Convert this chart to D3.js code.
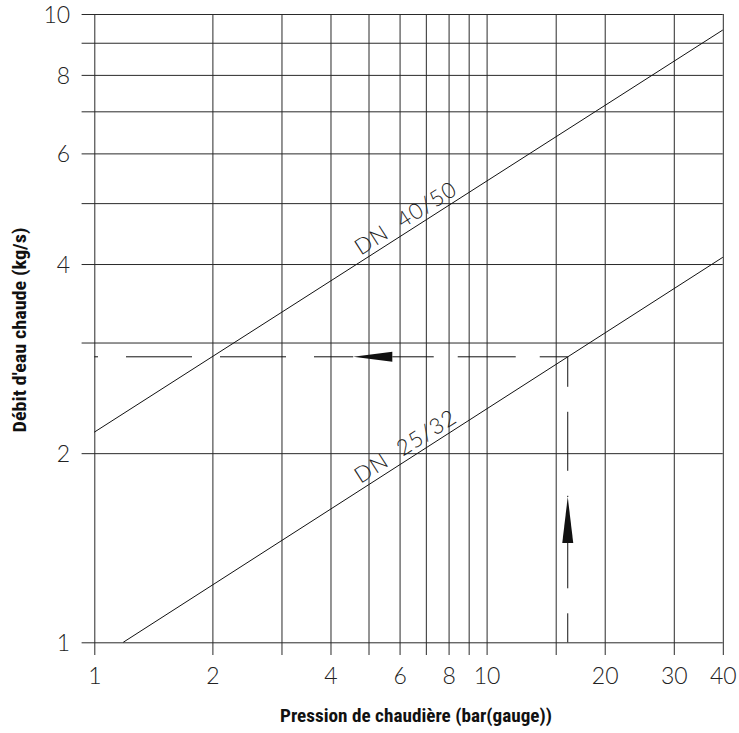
<!DOCTYPE html>
<html>
<head>
<meta charset="utf-8">
<script src="https://cdn.jsdelivr.net/npm/d3@7"></script>
<style>
  html, body { margin: 0; padding: 0; background: #fff; }
  svg { display: block; }
  .tick-lbl { font-family: Lato, "Open Sans", sans-serif; font-weight: 300; fill: #222; }
  .title { font-family: "Liberation Sans Narrow", "Roboto Condensed", Roboto, sans-serif; font-weight: 700; fill: #111; }
</style>
</head>
<body>
<svg id="chart" width="739" height="733"></svg>
<script>
// ---- data ----
const xGrid = [1, 2, 3, 4, 5, 6, 7, 8, 9, 10, 15, 20, 30, 40];
const xTickLabels = [1, 2, 4, 6, 8, 10, 20, 30, 40];
const yGrid = [1, 2, 3, 4, 5, 6, 7, 8, 9, 10];
const yTickLabels = [1, 2, 4, 6, 8, 10];
const seriesNames = ["DN  40/50", "DN  25/32"];
const dn4050 = [[1, 2.16], [40, 9.43]];
const dn2532 = [[1.185, 1.0], [40, 4.1]];
const readPressure = 16.1;
const readFlow = 2.847;
const arrowLeft = { tip: 4.57, base: 5.75 };   // pressure values along flow = readFlow
const arrowUp = { tip: 1.703, base: 1.439 };   // flow values along pressure = readPressure
const labelStartX = 4.85;
const xTitle = "Pression de chaudière (bar(gauge))";
const yTitle = "Débit d'eau chaude (kg/s)";

// ---- layout ----
const svg = d3.select("#chart");
const L = 94.3, R = 722.8, T = 14, B = 642.3, ext = 12.7;
const x = d3.scaleLog().domain([1, 40]).range([L, R]);
const y = d3.scaleLog().domain([1, 10]).range([B, T]);
const gridColor = "#2a2a2a";

// vertical grid + x labels
const xAxis = d3.axisBottom(x).tickValues(xGrid)
  .tickSizeInner(-(B + ext - T)).tickSizeOuter(0)
  .tickFormat(d => xTickLabels.includes(d) ? d : "");
const gx = svg.append("g").attr("transform", `translate(0,${B + ext})`).call(xAxis);
gx.select(".domain").remove();
gx.selectAll(".tick line").attr("stroke", gridColor).attr("stroke-width", 1);
gx.selectAll(".tick text").attr("class", "tick-lbl")
  .attr("y", 29).attr("dy", 0).style("font-size", "23px");

// horizontal grid + y labels
const yAxis = d3.axisLeft(y).tickValues(yGrid)
  .tickSizeInner(-(R - (L - ext))).tickSizeOuter(0)
  .tickFormat(d => yTickLabels.includes(d) ? d : "");
const gy = svg.append("g").attr("transform", `translate(${L - ext},0)`).call(yAxis);
gy.select(".domain").remove();
gy.selectAll(".tick line").attr("stroke", gridColor).attr("stroke-width", 1);
gy.selectAll(".tick text").attr("class", "tick-lbl")
  .attr("x", -11.5).attr("dy", "0.36em").style("font-size", "23px");

// series lines
const line = d3.line().x(d => x(d[0])).y(d => y(d[1]));
[dn4050, dn2532].forEach((s, i) => {
  svg.append("path").datum(s).attr("d", line)
    .attr("fill", "none").attr("stroke", "#111").attr("stroke-width", 1);
  const p0 = [x(s[0][0]), y(s[0][1])], p1 = [x(s[1][0]), y(s[1][1])];
  const ang = Math.atan2(p1[1] - p0[1], p1[0] - p0[0]) * 180 / Math.PI;
  const slope = Math.log(s[1][1] / s[0][1]) / Math.log(s[1][0] / s[0][0]);
  const yv = s[0][1] * Math.pow(labelStartX / s[0][0], slope);
  svg.append("text")
    .attr("transform", `translate(${x(labelStartX)},${y(yv)}) rotate(${ang})`)
    .attr("y", -5)
    .attr("class", "tick-lbl")
    .style("font-size", "22px").style("letter-spacing", "1.2px")
    .style("white-space", "pre")
    .text(seriesNames[i]);
});

// dashed guide lines
const guide = (pts, dash, off) => svg.append("path").datum(pts).attr("d", line)
  .attr("fill", "none").attr("stroke", "#111").attr("stroke-width", 1)
  .attr("stroke-dasharray", dash).attr("stroke-dashoffset", off);
guide([[1, readFlow], [arrowLeft.tip, readFlow]], "66,28", 62.3);
guide([[readPressure, readFlow], [arrowLeft.base, readFlow]], "58,24", 30);
guide([[readPressure, readFlow], [readPressure, arrowUp.tip]], "59,25", 29);
guide([[readPressure, 1], [readPressure, arrowUp.base]], "59,25", 30);

// arrows
const ay = y(readFlow);
svg.append("path")
  .attr("d", `M${x(arrowLeft.tip)},${ay} L${x(arrowLeft.base)},${ay - 5} L${x(arrowLeft.base)},${ay + 5} Z`)
  .attr("fill", "#111");
const ax = x(readPressure);
svg.append("path")
  .attr("d", `M${ax},${y(arrowUp.tip)} L${ax - 5.5},${y(arrowUp.base)} L${ax + 5.5},${y(arrowUp.base)} Z`)
  .attr("fill", "#111");

// titles
svg.append("text").attr("class", "title")
  .attr("x", 416).attr("y", 722).attr("text-anchor", "middle")
  .style("font-size", "18px")
  .attr("textLength", 272).attr("lengthAdjust", "spacingAndGlyphs")
  .text(xTitle);
svg.append("text").attr("class", "title")
  .attr("transform", `translate(26,330) rotate(-90)`)
  .attr("text-anchor", "middle")
  .style("font-size", "18px")
  .attr("textLength", 205).attr("lengthAdjust", "spacingAndGlyphs")
  .text(yTitle);
</script>
</body>
</html>
